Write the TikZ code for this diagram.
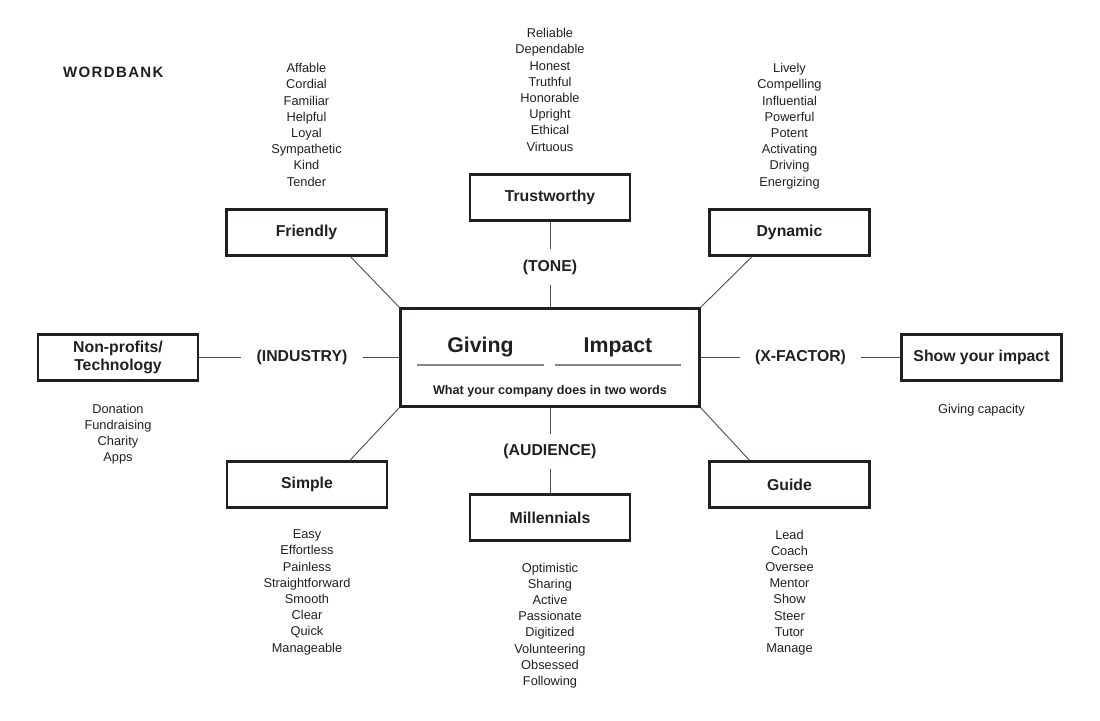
\documentclass[tikz,border=0pt]{standalone}
\usepackage{fontspec}
\setmainfont{Liberation Sans}
\usetikzlibrary{positioning}
\definecolor{ink}{HTML}{231F20}

\begin{document}
\begin{tikzpicture}[
    x=1pt, y=1pt,
    node distance=22pt,
    every node/.style={text=ink},
    % Box styles
    centrebox/.style={
      rectangle, draw=ink, line width=2.6pt,
      minimum width=299pt, minimum height=98pt
    },
    termbox/.style={
      rectangle, draw=ink, line width=2.4pt,
      minimum width=160pt, minimum height=46pt,
      font=\fontsize{15.8}{18}\selectfont\bfseries, align=center
    },
    catlabel/.style={
      font=\fontsize{15.8}{18}\selectfont\bfseries,
      inner xsep=15pt, inner ysep=10pt
    },
    wordlist/.style={
      font=\fontsize{12.8}{16.2}\selectfont, align=center,
      inner sep=0pt, text depth=0pt
    },
    keyword/.style={
      font=\fontsize{21.3}{24}\selectfont\bfseries, inner sep=0pt
    },
    % Line styles
    link/.style={draw=ink!80, line width=0.9pt},
    blankline/.style={draw=ink!55, line width=1.1pt}
  ]
  \useasboundingbox (-550,357.5) rectangle (550,-362.5);

  % ============ Centre box ============
  \node[centrebox] (centre) at (0,0) {};
  \node[keyword, anchor=base] (giving) at (-69.5,4.5) {Giving};
  \node[keyword, anchor=base] (impact) at (68,4.5) {Impact};
  \draw[blankline] ([xshift=-63.5pt, yshift=-12pt]giving.base) -- ++(127,0);
  \draw[blankline] ([xshift=-63pt, yshift=-12pt]impact.base) -- ++(126,0);
  \node[font=\fontsize{12.6}{14}\selectfont\bfseries, anchor=base] (tagline)
    at (0,-37.5) {What your company does in two words};

  % ============ Term boxes ============
  \node[termbox] (trust) at (0,160) {Trustworthy};
  \node[termbox] (friendly) at (-243.5,125) {Friendly};
  \node[termbox] (dynamic) at (239.5,125) {Dynamic};
  \node[termbox] (simple) at (-243,-127) {Simple};
  \node[termbox] (guide) at (239.5,-127) {Guide};
  \node[termbox] (millennials) at (0,-160) {Millennials};
  \node[termbox] (nonprofit) at (-432,0) {Non-profits/\\Technology};
  \node[termbox] (showimpact) at (431.5,0) {Show your impact};

  % ============ Category labels ============
  \node[catlabel] (tone) at (0,90.5) {(TONE)};
  \node[catlabel] (audience) at (0,-94) {(AUDIENCE)};
  \node[catlabel] (industry) at (-248,0) {(INDUSTRY)};
  \node[catlabel] (xfactor) at (250.5,0) {(X-FACTOR)};

  % ============ Word lists ============
  \node[wordlist, above=of friendly] (friendlywords)
    {Affable\\Cordial\\Familiar\\Helpful\\Loyal\\Sympathetic\\Kind\\Tender};
  \node[wordlist, above=of trust] (trustwords)
    {Reliable\\Dependable\\Honest\\Truthful\\Honorable\\Upright\\Ethical\\Virtuous};
  \node[wordlist, above=of dynamic] (dynamicwords)
    {Lively\\Compelling\\Influential\\Powerful\\Potent\\Activating\\Driving\\Energizing};
  \node[wordlist, below=21pt of simple] (simplewords)
    {Easy\\Effortless\\Painless\\Straightforward\\Smooth\\Clear\\Quick\\Manageable};
  \node[wordlist, below=21pt of millennials] (millennialwords)
    {Optimistic\\Sharing\\Active\\Passionate\\Digitized\\Volunteering\\Obsessed\\Following};
  \node[wordlist, below=21pt of guide] (guidewords)
    {Lead\\Coach\\Oversee\\Mentor\\Show\\Steer\\Tutor\\Manage};
  \node[wordlist, below=22pt of nonprofit] (industrywords)
    {Donation\\Fundraising\\Charity\\Apps};
  \node[wordlist, below=22pt of showimpact] (impactwords) {Giving capacity};

  % ============ Heading ============
  \node[anchor=base west, inner sep=0pt,
    font=\fontsize{15}{18}\selectfont\bfseries\addfontfeature{LetterSpace=9}]
    (wordbank) at (-487,279.8) {WORDBANK};

  % ============ Connectors ============
  \draw[link] (centre) -- (tone) -- (trust);
  \draw[link] (centre) -- (audience) -- (millennials);
  \draw[link] (nonprofit) -- (industry) -- (centre);
  \draw[link] (centre) -- (xfactor) -- (showimpact);
  \draw[link] (centre.north west) -- ([xshift=44pt]friendly.south);
  \draw[link] (centre.north east) -- ([xshift=-37.5pt]dynamic.south);
  \draw[link] (centre.south west) -- ([xshift=43pt]simple.north);
  \draw[link] (centre.south east) -- ([xshift=-40pt]guide.north);
\end{tikzpicture}
\end{document}
